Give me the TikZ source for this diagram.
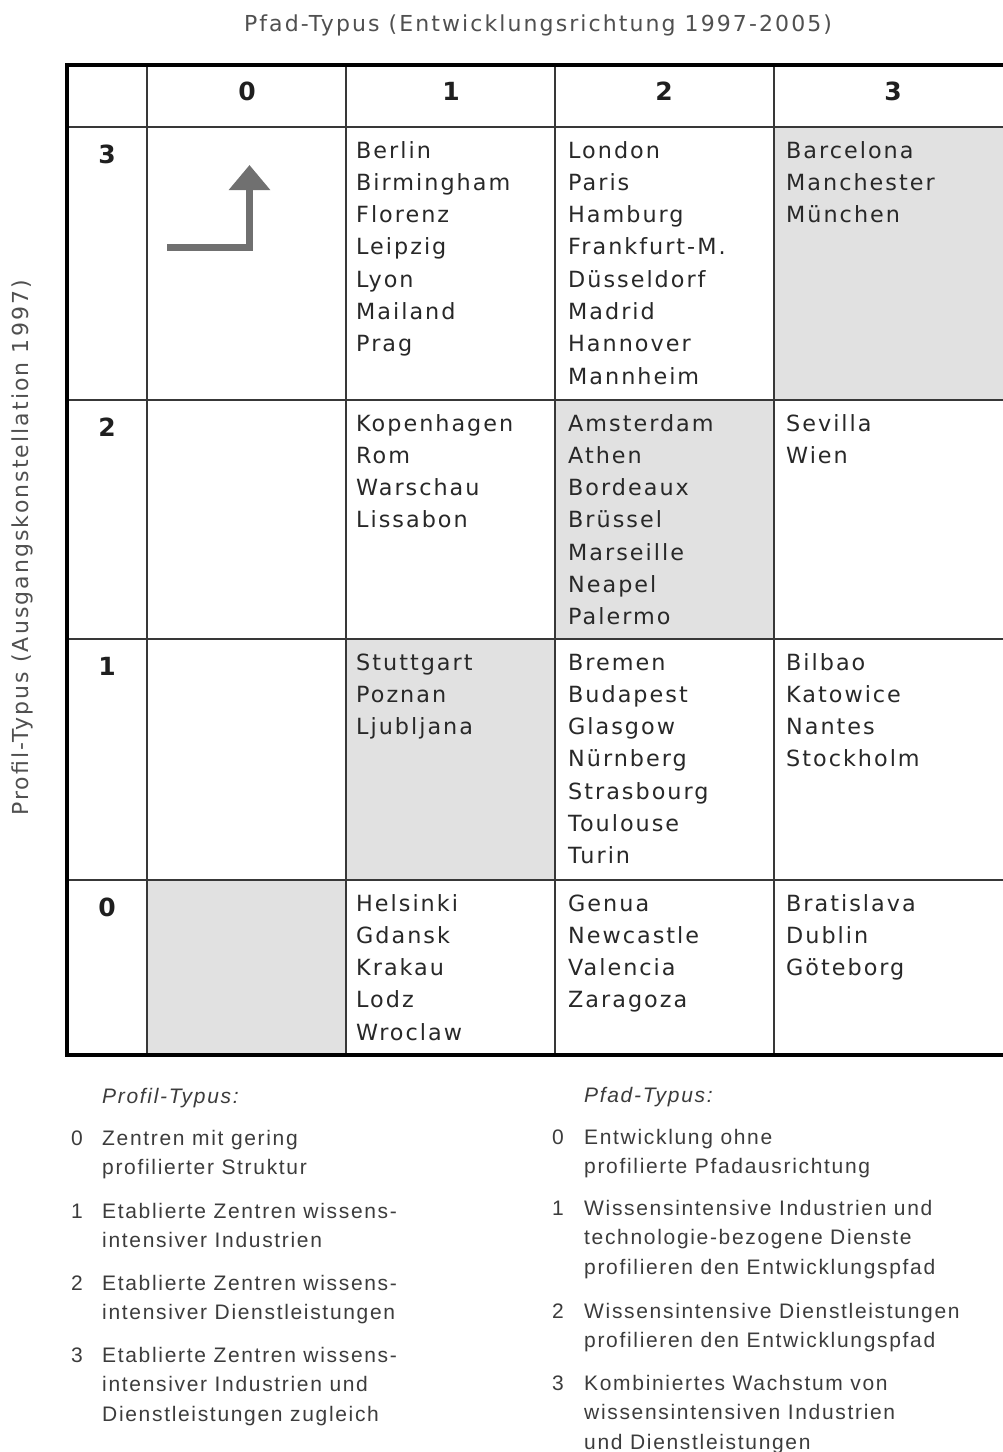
\documentclass[tikz,border=0pt]{standalone}
\usepackage{fontspec}
\usetikzlibrary{arrows.meta}
\newfontfamily\tabfont[LetterSpace=9]{DejaVu Sans}
\newfontfamily\labfont[LetterSpace=9.5]{DejaVu Sans}
\newfontfamily\legfont[LetterSpace=8]{Liberation Sans}
\definecolor{cellshade}{RGB}{225,225,225}
\definecolor{gridgray}{RGB}{56,56,56}
\definecolor{citytext}{RGB}{40,40,40}
\definecolor{labeltext}{RGB}{80,80,80}
\definecolor{legtext}{RGB}{60,60,60}
\definecolor{arrowgray}{RGB}{112,112,112}
\tikzset{
  grid line/.style={draw=gridgray, line width=2pt},
  frame line/.style={draw=black, line width=4pt},
  city/.style={anchor=base west, inner sep=0pt, text=citytext,
    font=\tabfont\fontsize{22.3}{32.3}\selectfont},
  digit/.style={anchor=base, inner sep=0pt, text=black!88,
    font=\tabfont\bfseries\fontsize{25}{30}\selectfont},
  axislabel/.style={inner sep=0pt, text=labeltext,
    font=\labfont\fontsize{22}{26}\selectfont},
  legnum/.style={anchor=base west, inner sep=0pt, text=legtext,
    font=\legfont\fontsize{21}{29.5}\selectfont},
  legitem/.style={legnum},
  leghead/.style={legnum, font=\legfont\itshape\fontsize{21}{29.5}\selectfont},
}
\newcommand{\citylist}[1]{\parbox[t]{220pt}{#1}}
\newcommand{\legtext}[1]{\parbox[t]{420pt}{#1}}
\begin{document}
\begin{tikzpicture}[x=1pt,y=-1pt]
\useasboundingbox (0,0) rectangle (1003,1452);
\fill[white] (0,0) rectangle (1003,1452);

% table: shaded diagonal cells, grid and frame
\begin{scope}
\clip (0,0) rectangle (1003,1452);
\fill[cellshade] (774,127) rectangle (1012,400);
\fill[cellshade] (555,400) rectangle (774,639);
\fill[cellshade] (346,639) rectangle (555,880);
\fill[cellshade] (147,880) rectangle (346,1055);
\foreach \gx in {147,346,555,774} \draw[grid line] (\gx,65) -- (\gx,1055);
\foreach \gy in {127,400,639,880} \draw[grid line] (67,\gy) -- (1012,\gy);
\draw[frame line] (67,65) rectangle (1012,1055);
\end{scope}

% axis titles
\node[axislabel] (pathtitle) at (538,25) {Pfad-Typus (Entwicklungsrichtung 1997-2005)};
\node[axislabel, rotate=90] (profiletitle) at (22,548) {Profil-Typus (Ausgangskonstellation 1997)};

% column heads (path type)
\node[digit] (h0) at (247,100) {0};
\node[digit] (h1) at (451,100) {1};
\node[digit] (h2) at (664,100) {2};
\node[digit] (h3) at (893,100) {3};
% row heads (profile type)
\node[digit] (r3) at (107,163) {3};
\node[digit] (r2) at (107,436) {2};
\node[digit] (r1) at (107,675) {1};
\node[digit] (r0) at (107,916) {0};

% direction icon
\coordinate (arrstart) at (167,247.5);
\coordinate (arrcorner) at (249.5,247.5);
\coordinate (arrtip) at (249.5,165);
\draw[draw=arrowgray, line width=7pt, line join=miter,
  -{Triangle[width=40pt,length=25pt]}]
  (arrstart) -- (arrcorner) -- (arrtip);

% cities
\node[city] (c31) at (356,158) {\citylist{Berlin\\Birmingham\\Florenz\\Leipzig\\Lyon\\Mailand\\Prag}};
\node[city] (c32) at (568,158) {\citylist{London\\Paris\\Hamburg\\Frankfurt-M.\\Düsseldorf\\Madrid\\Hannover\\Mannheim}};
\node[city] (c33) at (786,158) {\citylist{Barcelona\\Manchester\\München}};
\node[city] (c21) at (356,431) {\citylist{Kopenhagen\\Rom\\Warschau\\Lissabon}};
\node[city] (c22) at (568,431) {\citylist{Amsterdam\\Athen\\Bordeaux\\Brüssel\\Marseille\\Neapel\\Palermo}};
\node[city] (c23) at (786,431) {\citylist{Sevilla\\Wien}};
\node[city] (c11) at (356,670) {\citylist{Stuttgart\\Poznan\\Ljubljana}};
\node[city] (c12) at (568,670) {\citylist{Bremen\\Budapest\\Glasgow\\Nürnberg\\Strasbourg\\Toulouse\\Turin}};
\node[city] (c13) at (786,670) {\citylist{Bilbao\\Katowice\\Nantes\\Stockholm}};
\node[city] (c01) at (356,911) {\citylist{Helsinki\\Gdansk\\Krakau\\Lodz\\Wroclaw}};
\node[city] (c02) at (568,911) {\citylist{Genua\\Newcastle\\Valencia\\Zaragoza}};
\node[city] (c03) at (786,911) {\citylist{Bratislava\\Dublin\\Göteborg}};

% legend: profile types
\node[leghead] (lp) at (102,1103) {Profil-Typus:};
\node[legnum] (lp0n) at (71,1145) {0};
\node[legitem] (lp0) at (102,1145) {\legtext{Zentren mit gering\\profilierter Struktur}};
\node[legnum] (lp1n) at (71,1218) {1};
\node[legitem] (lp1) at (102,1218) {\legtext{Etablierte Zentren wissens-\\intensiver Industrien}};
\node[legnum] (lp2n) at (71,1290) {2};
\node[legitem] (lp2) at (102,1290) {\legtext{Etablierte Zentren wissens-\\intensiver Dienstleistungen}};
\node[legnum] (lp3n) at (71,1362) {3};
\node[legitem] (lp3) at (102,1362) {\legtext{Etablierte Zentren wissens-\\intensiver Industrien und\\Dienstleistungen zugleich}};

% legend: path types
\node[leghead] (la) at (584,1102) {Pfad-Typus:};
\node[legnum] (la0n) at (552,1144) {0};
\node[legitem] (la0) at (584,1144) {\legtext{Entwicklung ohne\\profilierte Pfadausrichtung}};
\node[legnum] (la1n) at (552,1215) {1};
\node[legitem] (la1) at (584,1215) {\legtext{Wissensintensive Industrien und\\technologie-bezogene Dienste\\profilieren den Entwicklungspfad}};
\node[legnum] (la2n) at (552,1318) {2};
\node[legitem] (la2) at (584,1318) {\legtext{Wissensintensive Dienstleistungen\\profilieren den Entwicklungspfad}};
\node[legnum] (la3n) at (552,1390) {3};
\node[legitem] (la3) at (584,1390) {\legtext{Kombiniertes Wachstum von\\wissensintensiven Industrien\\und Dienstleistungen}};
\end{tikzpicture}
\end{document}
